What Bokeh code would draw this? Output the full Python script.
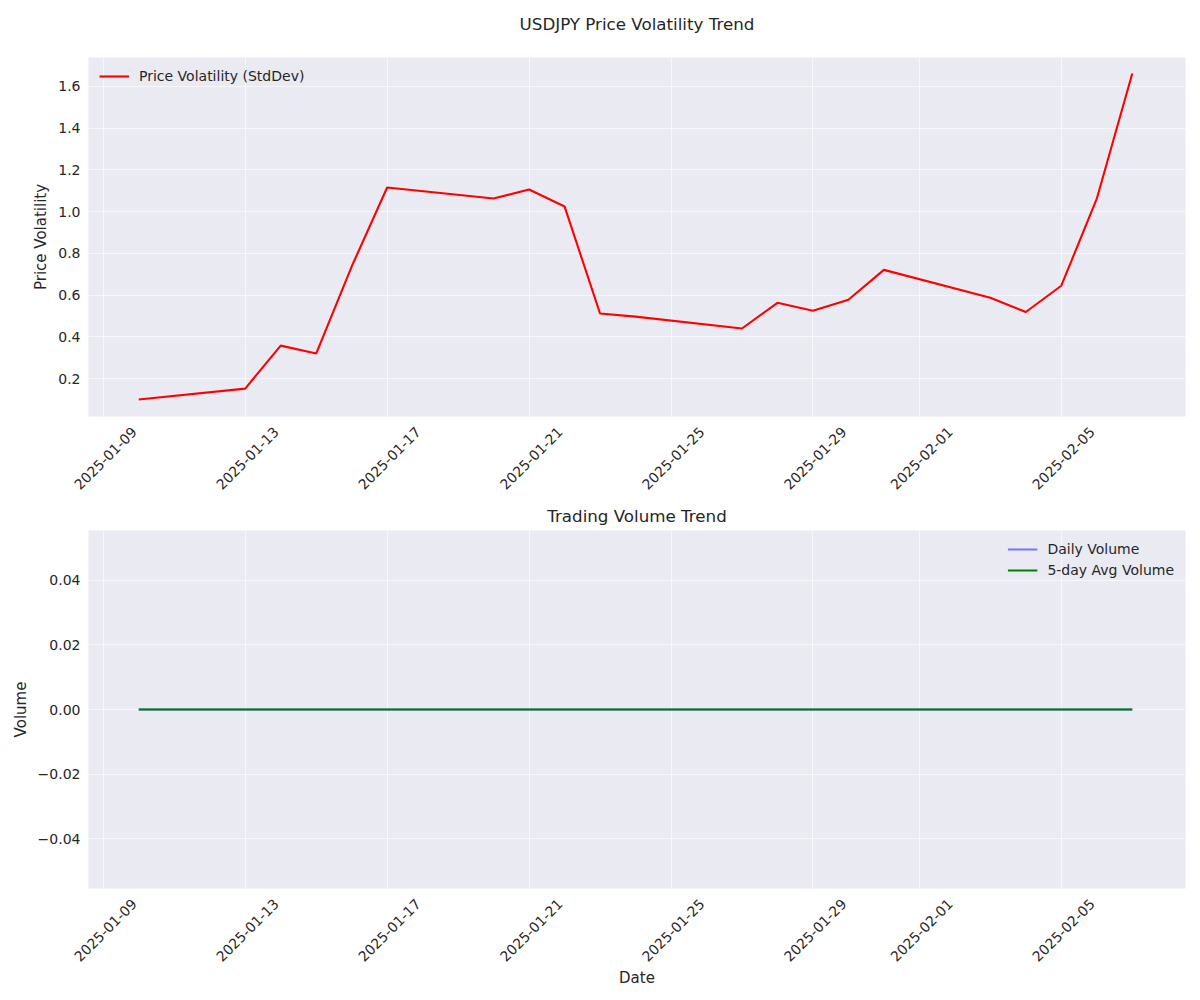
import math
import pandas as pd
from bokeh.plotting import figure
from bokeh.layouts import column
from bokeh.models import (FixedTicker, Range1d, Legend, DatetimeAxis, LinearAxis,
                          DatetimeTickFormatter)
from bokeh.embed import file_html
from bokeh.resources import INLINE

dates = ["2025-01-10", "2025-01-13", "2025-01-14", "2025-01-15", "2025-01-16",
         "2025-01-17", "2025-01-20", "2025-01-21", "2025-01-22", "2025-01-23",
         "2025-01-24", "2025-01-27", "2025-01-28", "2025-01-29", "2025-01-30",
         "2025-01-31", "2025-02-03", "2025-02-04", "2025-02-05", "2025-02-06",
         "2025-02-07"]
volatility = [0.10, 0.152, 0.358, 0.32, 0.737, 1.116, 1.063, 1.106, 1.025, 0.512,
              0.497, 0.44, 0.563, 0.525, 0.578, 0.721, 0.587, 0.519, 0.645, 1.062,
              1.662]
daily_volume = [0] * 21
avg_volume = [0] * 21
x_tick_labels = ["2025-01-09", "2025-01-13", "2025-01-17", "2025-01-21",
                 "2025-01-25", "2025-01-29", "2025-02-01", "2025-02-05"]
vola_y_ticks = [0.2, 0.4, 0.6, 0.8, 1.0, 1.2, 1.4, 1.6]
vol_y_ticks = [-0.04, -0.02, 0.0, 0.02, 0.04]

x = pd.to_datetime(dates)
tick_ms = [pd.Timestamp(t).value / 1e6 for t in x_tick_labels]
x_start = pd.Timestamp("2025-01-08 14:00").value / 1e6
x_end = pd.Timestamp("2025-02-08 12:00").value / 1e6
FRAME_W = 1097
ms_per_px = (x_end - x_start) / FRAME_W

FONT = "DejaVu Sans"
TXT = "#262626"
BG = "#EAEAF2"


def bare(ax):
    ax.axis_line_color = None
    ax.major_tick_line_color = None
    ax.minor_tick_line_color = None
    ax.major_tick_out = 0
    ax.major_tick_in = 0
    ax.minor_tick_out = 0
    ax.minor_tick_in = 0


def style(p):
    p.background_fill_color = BG
    p.border_fill_color = "white"
    p.outline_line_color = None
    p.xgrid.ticker = FixedTicker(ticks=tick_ms)
    p.xgrid.grid_line_color = "white"
    p.ygrid.grid_line_color = "white"
    p.xgrid.grid_line_alpha = 0.6
    p.ygrid.grid_line_alpha = 0.6
    p.xaxis.visible = False
    p.title.align = "center"
    p.title.text_font = FONT
    p.title.text_font_size = "16.7px"
    p.title.text_font_style = "normal"
    p.title.text_color = TXT
    # date labels: matplotlib centres rotated labels under the tick, so an
    # extra axis with a range shifted by ~half the label width is used
    shift = 31 * ms_per_px
    p.extra_x_ranges = {"lab": Range1d(x_start - shift, x_end - shift)}
    bx = DatetimeAxis(x_range_name="lab", ticker=FixedTicker(ticks=tick_ms),
                      formatter=DatetimeTickFormatter(days="%Y-%m-%d",
                                                      months="%Y-%m-%d",
                                                      hours="%Y-%m-%d"))
    bx.major_label_orientation = math.pi / 4
    p.add_layout(bx, "below")
    for ax in (p.yaxis[0], bx):
        bare(ax)
        ax.major_label_text_font = FONT
        ax.major_label_text_font_size = "14px"
        ax.major_label_text_color = TXT
        ax.axis_label_text_font = FONT
        ax.axis_label_text_font_size = "15px"
        ax.axis_label_text_font_style = "normal"
        ax.axis_label_text_color = TXT
        ax.major_label_standoff = 8
    bx.major_label_standoff = 13
    return bx


p1 = figure(width=1200, height=498, x_axis_type="datetime",
            output_backend="svg", toolbar_location=None,
            x_range=Range1d(x_start, x_end), y_range=Range1d(0.0182, 1.7389),
            min_border_left=88, min_border_right=15, min_border_top=57,
            min_border_bottom=82)
style(p1)
# figure title, drawn as the label of a bare axis above the frame
tx = LinearAxis(ticker=FixedTicker(ticks=[]), axis_label="USDJPY Price Volatility Trend")
bare(tx)
tx.major_label_text_font_size = "0px"
tx.axis_label_text_font = FONT
tx.axis_label_text_font_size = "16.7px"
tx.axis_label_text_font_style = "normal"
tx.axis_label_text_color = TXT
tx.axis_label_standoff = 24
p1.add_layout(tx, "above")
p1.yaxis.axis_label = "Price Volatility"
p1.yaxis.ticker = FixedTicker(ticks=vola_y_ticks)
p1.yaxis.major_label_overrides = {v: "%.1f" % v for v in vola_y_ticks}
r1 = p1.line(x, volatility, line_color="red", line_width=2.1)
leg1 = Legend(items=[("Price Volatility (StdDev)", [r1])], location="top_left")
p1.add_layout(leg1)

p2 = figure(width=1200, height=502, x_axis_type="datetime",
            output_backend="svg", toolbar_location=None,
            x_range=Range1d(x_start, x_end), y_range=Range1d(-0.0554, 0.0554),
            min_border_left=88, min_border_right=15, min_border_top=31,
            min_border_bottom=112, title="Trading Volume Trend")
bx2 = style(p2)
p2.title.standoff = 10
p2.yaxis.axis_label = "Volume"
bx2.axis_label = "Date"
bx2.axis_label_standoff = 0
p2.yaxis.ticker = FixedTicker(ticks=vol_y_ticks)
p2.yaxis.major_label_overrides = {v: ("\u2212%.2f" % abs(v) if v < 0 else "%.2f" % v)
                                  for v in vol_y_ticks}
r2 = p2.line(x, daily_volume, line_color="#0000ff", line_alpha=0.5, line_width=2.1)
r3 = p2.line(x, avg_volume, line_color="green", line_width=2.1)
leg2 = Legend(items=[("Daily Volume", [r2]), ("5-day Avg Volume", [r3])],
              location="top_right")
p2.add_layout(leg2)

for leg in (leg1, leg2):
    leg.background_fill_alpha = 0
    leg.border_line_color = None
    leg.label_text_font = FONT
    leg.label_text_font_size = "14px"
    leg.label_text_color = TXT
    leg.glyph_width = 30
    leg.glyph_height = 14
    leg.label_height = 14
    leg.label_standoff = 10
    leg.spacing = 5
    leg.margin = 11
    leg.padding = 7

layout = column(p1, p2)
open("out.html", "w").write(file_html(layout, INLINE))
